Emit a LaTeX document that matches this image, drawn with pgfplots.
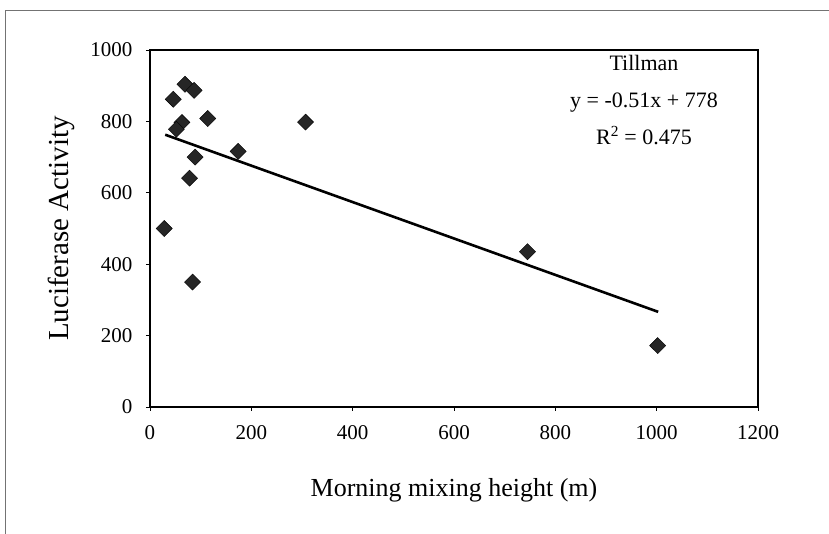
\documentclass[border=0pt]{standalone}
\usepackage{fontspec}
\setmainfont{Liberation Serif}
\usepackage{pgfplots}
\pgfplotsset{compat=1.18}
\begin{document}
\begin{tikzpicture}
\begin{axis}[
  name=ax,
  scale only axis,
  width=608pt, height=357pt,
  xmin=0, xmax=1200, ymin=0, ymax=1000,
  xtick={0,200,400,600,800,1000,1200}, ytick={0,200,400,600,800,1000},
  xticklabel={\fontsize{21}{25}\selectfont\pgfmathprintnumber[assume math mode=true,set thousands separator={}]{\tick}},
  yticklabel={\fontsize{21}{25}\selectfont\pgfmathprintnumber[assume math mode=true,set thousands separator={}]{\tick}},
  xticklabel shift=11pt,
  yticklabel shift=10pt,
  axis line style={line width=1.6pt},
  tick style={black, line width=0.6pt},
  major tick length=4pt,
  tick align=outside,
  xtick pos=bottom, ytick pos=left,
  xlabel={Morning mixing height (m)},
  ylabel={Luciferase Activity},
  xlabel style={font=\fontsize{26}{30}\selectfont, yshift=-32pt},
  ylabel style={font=\fontsize{29}{33}\selectfont, yshift=9pt},
  clip=false,
]
\addplot[only marks, mark=square*, mark size=5.7pt,
  mark options={rotate=45, fill=black!85, draw=black}]
  coordinates {
  (28,500) (46,862) (69,904) (87,887) (63,797) (52,778)
  (114,808) (307,798) (174,716) (89,700) (78,641) (84,350)
  (745,435) (1002,172)
};
\addplot[line width=2.6pt, black] coordinates {(30,762.7) (1003,266.5)};
\node[align=center, font=\fontsize{22}{37}\selectfont, anchor=north]
  at (axis cs:975,996) {Tillman\\y = -0.51x + 778\\R\textsuperscript{2} = 0.475};
\end{axis}
\path[use as bounding box] ([xshift=-150pt,yshift=-127pt]ax.south west) rectangle ([xshift=71pt,yshift=50pt]ax.north east);
\draw[black!55, line width=0.6pt] ([xshift=-145pt,yshift=-127pt]ax.south west) -- ([xshift=-145pt,yshift=40pt]ax.north west) -- ([xshift=71pt,yshift=40pt]ax.north east);
\end{tikzpicture}
\end{document}
